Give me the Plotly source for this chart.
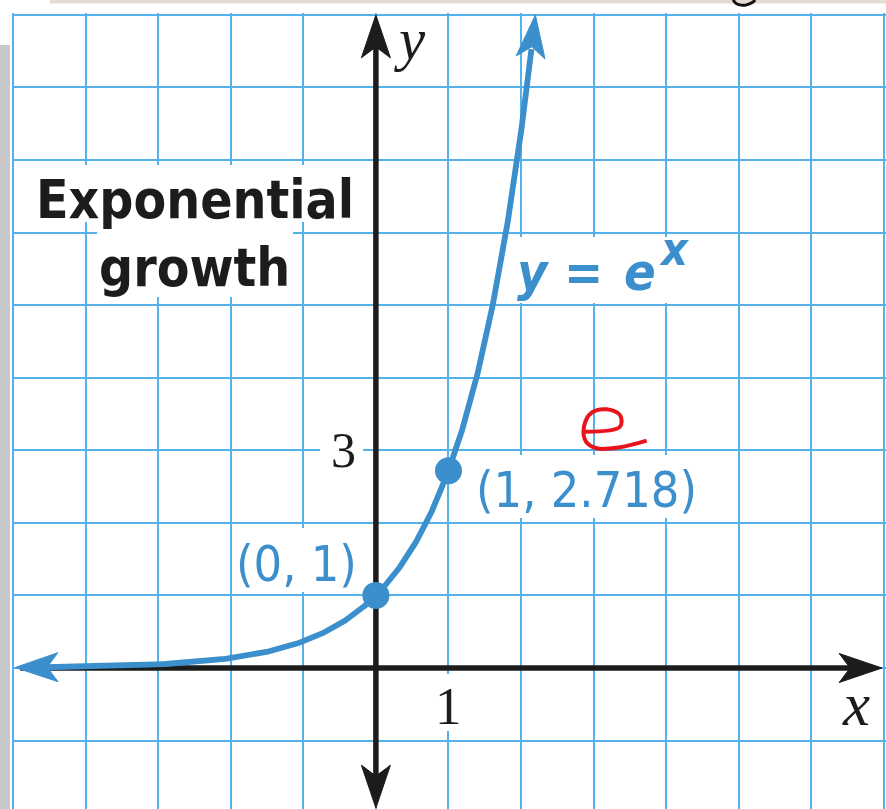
import numpy as np
import plotly.graph_objects as go

# ---- data -------------------------------------------------------------
curve_x_left = -4.97          # left end of the drawn curve
curve_x_right = 2.197         # ln 9, where the curve leaves the grid
key_x = [0, 1]
key_y = [1, 2.718]
key_labels = ["(0, 1)", "(1, 2.718)"]
x_tick_value = 1
y_tick_value = 3
x_axis_span = [-4.9, 6.973]
y_axis_span = [-1.929, 8.997]

# ---- page geometry (pixels) --------------------------------------------
W, H = 886, 809
UNIT = 72.58                  # pixels per grid unit
OX, OY = 375.9, 668.0         # pixel position of the origin


def dx(px):
    return (px - OX) / UNIT


def dy(py):
    return (OY - py) / UNIT


BLUE = "#3a8fcc"
GRID = "#55b1ea"
INK = "#1c1c1c"
AXIS_W = 5.5
CURVE_W = 5.8


def arrow_head(tip, direction, length=0.59, half_width=0.2, notch=0.15):
    d = np.asarray(direction, float)
    d = d / np.linalg.norm(d)
    n = np.array([-d[1], d[0]])
    tip = np.asarray(tip, float)
    base = tip - d * length
    pts = [tip, base + n * half_width, tip - d * (length - notch),
           base - n * half_width, tip]
    return [p[0] for p in pts], [p[1] for p in pts]


fig = go.Figure()

# exponential curve, trimmed where the arrowheads take over
xs = np.linspace(curve_x_left, curve_x_right, 800)
ys = np.exp(xs)
tip_l = np.array([curve_x_left, np.exp(curve_x_left)])
tip_r = np.array([curve_x_right, np.exp(curve_x_right)])
pts = np.column_stack([xs, ys])
keep = (np.linalg.norm(pts - tip_l, axis=1) > 0.42) & \
       (np.linalg.norm(pts - tip_r, axis=1) > 0.42)

# axes
fig.add_trace(go.Scatter(x=[x_axis_span[0], x_axis_span[1] - 0.4], y=[0, 0],
                         mode="lines", line=dict(color=INK, width=AXIS_W),
                         hoverinfo="skip"))
fig.add_trace(go.Scatter(x=[0, 0], y=[y_axis_span[0] + 0.4, y_axis_span[1] - 0.4],
                         mode="lines", line=dict(color=INK, width=AXIS_W),
                         hoverinfo="skip"))
for tip, direc in [((x_axis_span[1], 0), (1, 0)),
                   ((0, y_axis_span[1]), (0, 1)),
                   ((0, y_axis_span[0]), (0, -1))]:
    ax_, ay_ = arrow_head(tip, direc)
    fig.add_trace(go.Scatter(x=ax_, y=ay_, mode="lines", fill="toself",
                             fillcolor=INK, line=dict(color=INK, width=1),
                             hoverinfo="skip"))

fig.add_trace(go.Scatter(x=xs[keep], y=ys[keep], mode="lines",
                         line=dict(color=BLUE, width=CURVE_W), hoverinfo="skip"))
for tip, direc in [(tip_l, (-1, -np.exp(curve_x_left))),
                   (tip_r, (1, np.exp(curve_x_right)))]:
    ax_, ay_ = arrow_head(tip, direc)
    fig.add_trace(go.Scatter(x=ax_, y=ay_, mode="lines", fill="toself",
                             fillcolor=BLUE, line=dict(color=BLUE, width=1),
                             hoverinfo="skip"))

fig.add_trace(go.Scatter(x=key_x, y=key_y, mode="markers",
                         marker=dict(color=BLUE, size=27), hoverinfo="skip"))

# handwritten red "e"
red_px = [(585, 431.7), (620, 426.7), (620, 415), (606.7, 409.3), (591.7, 412.7),
          (584, 426.7), (586, 441.7), (596.7, 448.3), (620, 447.3), (646.7, 440.7)]
fig.add_trace(go.Scatter(x=[dx(p[0]) for p in red_px], y=[dy(p[1]) for p in red_px],
                         mode="lines", line=dict(color="#e8141c", width=4, shape="spline"),
                         hoverinfo="skip"))
# tail of a pen stroke at the top edge
g_px = [(733, 0), (737, 4), (746, 5), (753, 2), (755, 0)]
fig.add_trace(go.Scatter(x=[dx(p[0]) for p in g_px], y=[dy(p[1]) for p in g_px],
                         mode="lines", line=dict(color="#111", width=3, shape="spline"),
                         hoverinfo="skip"))

# ---- paper strips and white label boxes over the grid --------------------
shapes = []


def px_rect(x0, y0, x1, y1, color):
    shapes.append(dict(type="rect", xref="x", yref="y", layer="between",
                       x0=dx(x0), x1=dx(x1), y0=dy(y0), y1=dy(y1),
                       fillcolor=color, line=dict(width=0)))


px_rect(0, 0, W, 13, "white")
px_rect(50, 0, W, 3.5, "#e2ddd0")
px_rect(0, 0, 12, H, "white")
px_rect(0, 45, 10, H, "#c8c8cb")
px_rect(16, 165, 370, 222, "white")     # Exponential
px_rect(97, 222, 293, 297, "white")     # growth
px_rect(320, 432, 363, 470, "white")    # 3
px_rect(430, 674, 466, 731, "white")    # 1
px_rect(508, 237, 700, 303, "white")    # y = e^x
px_rect(470, 455, 700, 518, "white")    # (1, 2.718)
px_rect(232, 528, 360, 592, "white")    # (0, 1)

# ---- text ----------------------------------------------------------------
NARROW = "Liberation Sans Narrow, Arial Narrow, DejaVu Sans Condensed, sans-serif"
SERIF = "Liberation Serif, Times New Roman, serif"
ann = []


def txt(text, px, py, size, family, color, xanchor="center", bold=False, italic=False):
    t = text
    if bold:
        t = "<b>" + t + "</b>"
    if italic:
        t = "<i>" + t + "</i>"
    ann.append(dict(x=dx(px), y=dy(py), xref="x", yref="y", text=t, showarrow=False,
                    xanchor=xanchor, yanchor="middle",
                    font=dict(size=size, family=family, color=color)))


txt("Exponential", 195, 199, 53, NARROW, INK, bold=True)
txt("growth", 194, 267, 53, NARROW, INK, bold=True)
# equation label y = e^x, set glyph by glyph
txt("y", 533, 272, 52, NARROW, BLUE, bold=True, italic=True)
txt("=", 583, 272, 52, NARROW, BLUE, bold=True, italic=True)
txt("e", 640, 272, 52, NARROW, BLUE, bold=True, italic=True)
txt("x", 674, 249, 46, NARROW, BLUE, bold=True, italic=True)
ann.append(dict(x=key_x[1], y=key_y[1], xref="x", yref="y", text=key_labels[1],
                showarrow=False, xanchor="left", yanchor="middle", xshift=26, yshift=-19,
                font=dict(size=50, family=NARROW, color=BLUE)))
ann.append(dict(x=key_x[0], y=key_y[0], xref="x", yref="y", text=key_labels[0],
                showarrow=False, xanchor="right", yanchor="middle", xshift=-17, yshift=31,
                font=dict(size=50, family=NARROW, color=BLUE)))
ann.append(dict(x=0, y=y_tick_value, xref="x", yref="y", text=str(y_tick_value),
                showarrow=False, xanchor="center", yanchor="middle", xshift=-32,
                font=dict(size=50, family=SERIF, color=INK)))
ann.append(dict(x=x_tick_value, y=0, xref="x", yref="y", text=str(x_tick_value),
                showarrow=False, xanchor="center", yanchor="middle", yshift=-38,
                font=dict(size=53, family=SERIF, color=INK)))
txt("y", 410, 39, 59, SERIF, INK, italic=True)
txt("x", 856, 704, 61, SERIF, INK, italic=True)

fig.update_layout(
    width=W, height=H, margin=dict(l=0, r=0, t=0, b=0),
    paper_bgcolor="white", plot_bgcolor="white", showlegend=False,
    shapes=shapes, annotations=ann,
    xaxis=dict(range=[dx(0), dx(W)], dtick=1, tick0=0, showgrid=True, gridcolor=GRID,
               gridwidth=2, zeroline=False, showticklabels=False, ticks="", fixedrange=True),
    yaxis=dict(range=[dy(H), dy(0)], dtick=1, tick0=0, showgrid=True, gridcolor=GRID,
               gridwidth=2, zeroline=False, showticklabels=False, ticks="", fixedrange=True),
)

fig.write_html("out.html", config=dict(displayModeBar=False))
